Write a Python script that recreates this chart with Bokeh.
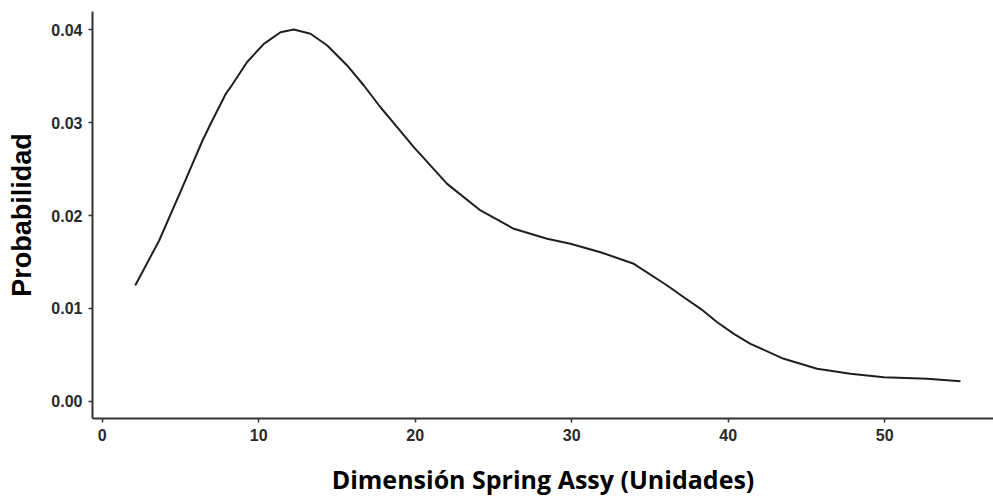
from bokeh.plotting import figure
from bokeh.models import Range1d, FixedTicker
from bokeh.embed import file_html
from bokeh.resources import INLINE

# Density curve
x_vals = [2.11, 3.64, 5.13, 6.41, 6.93, 7.90, 8.20, 9.25, 10.33, 11.39, 12.24,
          13.31, 14.38, 15.65, 16.72, 17.78, 18.55, 19.91, 22.04, 24.17, 26.30,
          28.43, 29.92, 31.84, 33.97, 36.10, 37.16, 38.24, 39.30, 40.36, 41.42,
          43.55, 45.68, 47.81, 49.94, 52.72, 54.84]
y_vals = [0.01246, 0.01731, 0.02305, 0.02808, 0.02988, 0.03311, 0.03382, 0.03651,
          0.03849, 0.03974, 0.04003, 0.03957, 0.03831, 0.03616, 0.03400, 0.03166,
          0.03010, 0.02736, 0.02341, 0.02054, 0.01857, 0.01749, 0.01695, 0.01605,
          0.01480, 0.01246, 0.01120, 0.00995, 0.00850, 0.00726, 0.00618, 0.00457,
          0.00349, 0.00295, 0.00258, 0.00241, 0.00215]

x_ticks = [0, 10, 20, 30, 40, 50]
y_ticks = [0.00, 0.01, 0.02, 0.03, 0.04]
y_tick_labels = {0.0: "0.00", 0.01: "0.01", 0.02: "0.02", 0.03: "0.03", 0.04: "0.04"}

p = figure(width=993, height=499, output_backend="svg", toolbar_location=None,
           x_range=Range1d(-0.62, 56.95), y_range=Range1d(-0.00186, 0.04197),
           min_border_left=92, min_border_bottom=81, min_border_top=11, min_border_right=0)

p.line(x_vals, y_vals, line_color="#1f1f1f", line_width=2, line_join="round")

p.outline_line_color = None
p.grid.visible = False
p.background_fill_color = "white"
p.border_fill_color = "white"

p.xaxis.ticker = FixedTicker(ticks=x_ticks)
p.yaxis.ticker = FixedTicker(ticks=y_ticks)
p.yaxis.major_label_overrides = y_tick_labels

for ax in (p.xaxis, p.yaxis):
    ax.axis_line_color = "#333333"
    ax.axis_line_width = 2
    ax.major_tick_line_color = "#333333"
    ax.major_tick_line_width = 1.5
    ax.major_tick_out = 4
    ax.major_tick_in = 0
    ax.minor_tick_line_color = None
    ax.major_label_text_font = "Liberation Sans"
    ax.major_label_text_font_size = "16px"
    ax.major_label_text_font_style = "bold"
    ax.major_label_text_color = "#2a2a2a"
    ax.major_label_standoff = 6
    ax.axis_label_text_font_style = "bold"
    ax.axis_label_text_color = "black"

p.xaxis.axis_label = "Dimensión Spring Assy (Unidades)"
p.xaxis.axis_label_text_font = "Open Sans"
p.xaxis.axis_label_text_font_size = "25px"
p.xaxis.axis_label_standoff = 18
p.yaxis.axis_label = "Probabilidad"
p.yaxis.axis_label_text_font = "Liberation Sans"
p.yaxis.axis_label_text_font_size = "27px"
p.yaxis.axis_label_standoff = 11

open("out.html", "w").write(file_html(p, INLINE))
